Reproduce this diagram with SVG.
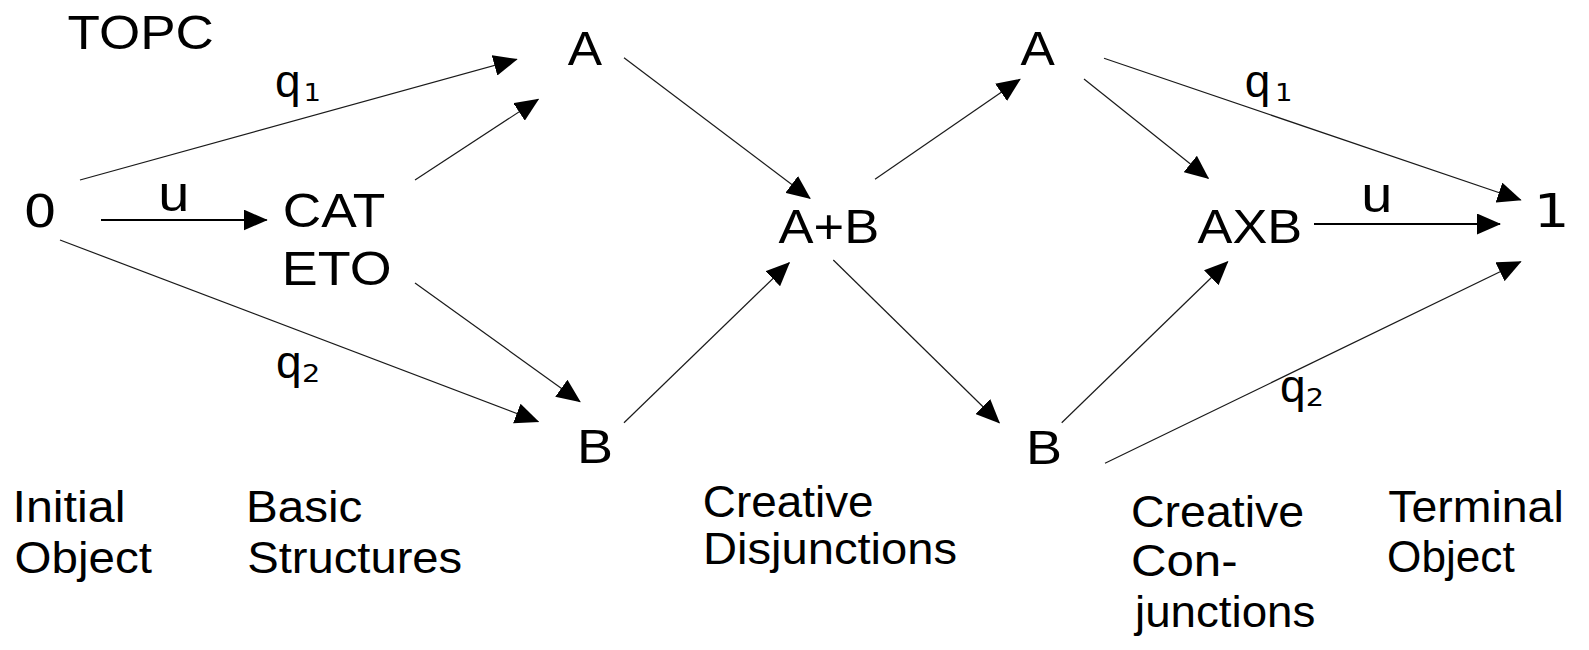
<svg xmlns="http://www.w3.org/2000/svg" width="1589" height="650" viewBox="0 0 1589 650">
<style>
text{font-family:"Liberation Sans",Arial,sans-serif;fill:#000}
.node{font-size:49px}
.digit{font-family:"DejaVu Sans","Liberation Sans",sans-serif}
.lbl{font-size:46px}
.sub{font-size:24px;font-family:"DejaVu Sans","Liberation Sans",sans-serif}
.cap{font-size:45px}
.edge{stroke:#1a1a1a;stroke-width:1.2;fill:none;marker-end:url(#ah)}
.edge.h{stroke:#000;stroke-width:2}
</style>
<defs>
<marker id="ah" viewBox="0 0 24 21" markerWidth="24" markerHeight="21" refX="23" refY="10.5" orient="auto" markerUnits="userSpaceOnUse">
<path d="M0,0 L24,10.5 L0,21 Z" fill="#000"/>
</marker>
</defs>
<rect width="1589" height="650" fill="#fff"/>
<g id="connectors">
<line class="edge" x1="80" y1="180" x2="516.7" y2="59.3"/>
<line class="edge h" x1="101" y1="220" x2="266.7" y2="220"/>
<line class="edge" x1="60" y1="240" x2="538.3" y2="421.7"/>
<line class="edge" x1="415" y1="180" x2="538.3" y2="99.3"/>
<line class="edge" x1="415" y1="283" x2="580" y2="401.7"/>
<line class="edge" x1="624" y1="57.7" x2="810" y2="198.3"/>
<line class="edge" x1="624" y1="422.7" x2="789.3" y2="262.7"/>
<line class="edge" x1="875" y1="179.3" x2="1020" y2="79.3"/>
<line class="edge" x1="833.3" y1="260" x2="999.3" y2="422.7"/>
<line class="edge" x1="1084" y1="79" x2="1208.3" y2="178.3"/>
<line class="edge" x1="1061.7" y1="422.7" x2="1227.7" y2="261.7"/>
<line class="edge" x1="1104" y1="58.3" x2="1520.7" y2="200"/>
<line class="edge h" x1="1314" y1="224" x2="1500" y2="224"/>
<line class="edge" x1="1105" y1="463.3" x2="1520.7" y2="261.7"/>
</g>
<g id="title"><text class="node" x="67.5" y="49.3" textLength="146.3" lengthAdjust="spacingAndGlyphs">TOPC</text></g>
<g id="node-0"><text class="node digit" style="font-size:44.5px" x="23.2" y="226.7" textLength="33.7" lengthAdjust="spacingAndGlyphs">0</text></g>
<g id="node-cateto">
<text class="node" x="282.8" y="226.7" textLength="102.6" lengthAdjust="spacingAndGlyphs">CAT</text>
<text class="node" x="281.8" y="285" textLength="109.8" lengthAdjust="spacingAndGlyphs">ETO</text>
</g>
<g id="node-A1"><text class="node" x="567.8" y="65" textLength="34.3" lengthAdjust="spacingAndGlyphs">A</text></g>
<g id="node-B1"><text class="node" x="577" y="463.3" textLength="36" lengthAdjust="spacingAndGlyphs">B</text></g>
<g id="node-AplusB"><text class="node" x="778.5" y="242.7" textLength="100.7" lengthAdjust="spacingAndGlyphs">A+B</text></g>
<g id="node-A2"><text class="node" x="1020.5" y="65" textLength="34.3" lengthAdjust="spacingAndGlyphs">A</text></g>
<g id="node-B2"><text class="node" x="1026" y="464" textLength="36" lengthAdjust="spacingAndGlyphs">B</text></g>
<g id="node-AXB"><text class="node" x="1197.5" y="242.7" textLength="104.7" lengthAdjust="spacingAndGlyphs">AXB</text></g>
<g id="node-1"><text class="node digit" style="font-size:45.8px" x="1533.8" y="226.7" textLength="35.8" lengthAdjust="spacingAndGlyphs">1</text></g>
<g id="edge-labels">
<text class="lbl" x="275" y="97">q</text><text class="sub" x="303.6" y="100.7" textLength="17.5" lengthAdjust="spacingAndGlyphs">1</text>
<text class="lbl" style="font-size:50px" x="158.3" y="210.7" textLength="31.1" lengthAdjust="spacingAndGlyphs">u</text>
<text class="lbl" x="276" y="378">q</text><text class="sub" x="302" y="382" textLength="18.3" lengthAdjust="spacingAndGlyphs">2</text>
<text class="lbl" x="1244.7" y="97">q</text><text class="sub" x="1275" y="100.7" textLength="17.5" lengthAdjust="spacingAndGlyphs">1</text>
<text class="lbl" style="font-size:50px" x="1361.3" y="211.7" textLength="31.1" lengthAdjust="spacingAndGlyphs">u</text>
<text class="lbl" x="1280" y="402">q</text><text class="sub" x="1305.8" y="406" textLength="18.3" lengthAdjust="spacingAndGlyphs">2</text>
</g>
<g id="captions">
<text class="cap" x="12.5" y="521.7" textLength="113" lengthAdjust="spacingAndGlyphs">Initial</text>
<text class="cap" x="14.6" y="573.3" textLength="137.3" lengthAdjust="spacingAndGlyphs">Object</text>
<text class="cap" x="246" y="521.7" textLength="116.4" lengthAdjust="spacingAndGlyphs">Basic</text>
<text class="cap" x="247.2" y="573.3" textLength="215" lengthAdjust="spacingAndGlyphs">Structures</text>
<text class="cap" x="702.8" y="516.7" textLength="170.8" lengthAdjust="spacingAndGlyphs">Creative</text>
<text class="cap" x="702.9" y="564.3" textLength="254.2" lengthAdjust="spacingAndGlyphs">Disjunctions</text>
<text class="cap" x="1131" y="526.7" textLength="173.2" lengthAdjust="spacingAndGlyphs">Creative</text>
<text class="cap" x="1130.9" y="576" textLength="106.8" lengthAdjust="spacingAndGlyphs">Con-</text>
<text class="cap" x="1135" y="626.7" textLength="180.4" lengthAdjust="spacingAndGlyphs">junctions</text>
<text class="cap" x="1388.3" y="521.7" textLength="175.4" lengthAdjust="spacingAndGlyphs">Terminal</text>
<text class="cap" x="1387.1" y="571.7" textLength="127.6" lengthAdjust="spacingAndGlyphs">Object</text>
</g>
</svg>
